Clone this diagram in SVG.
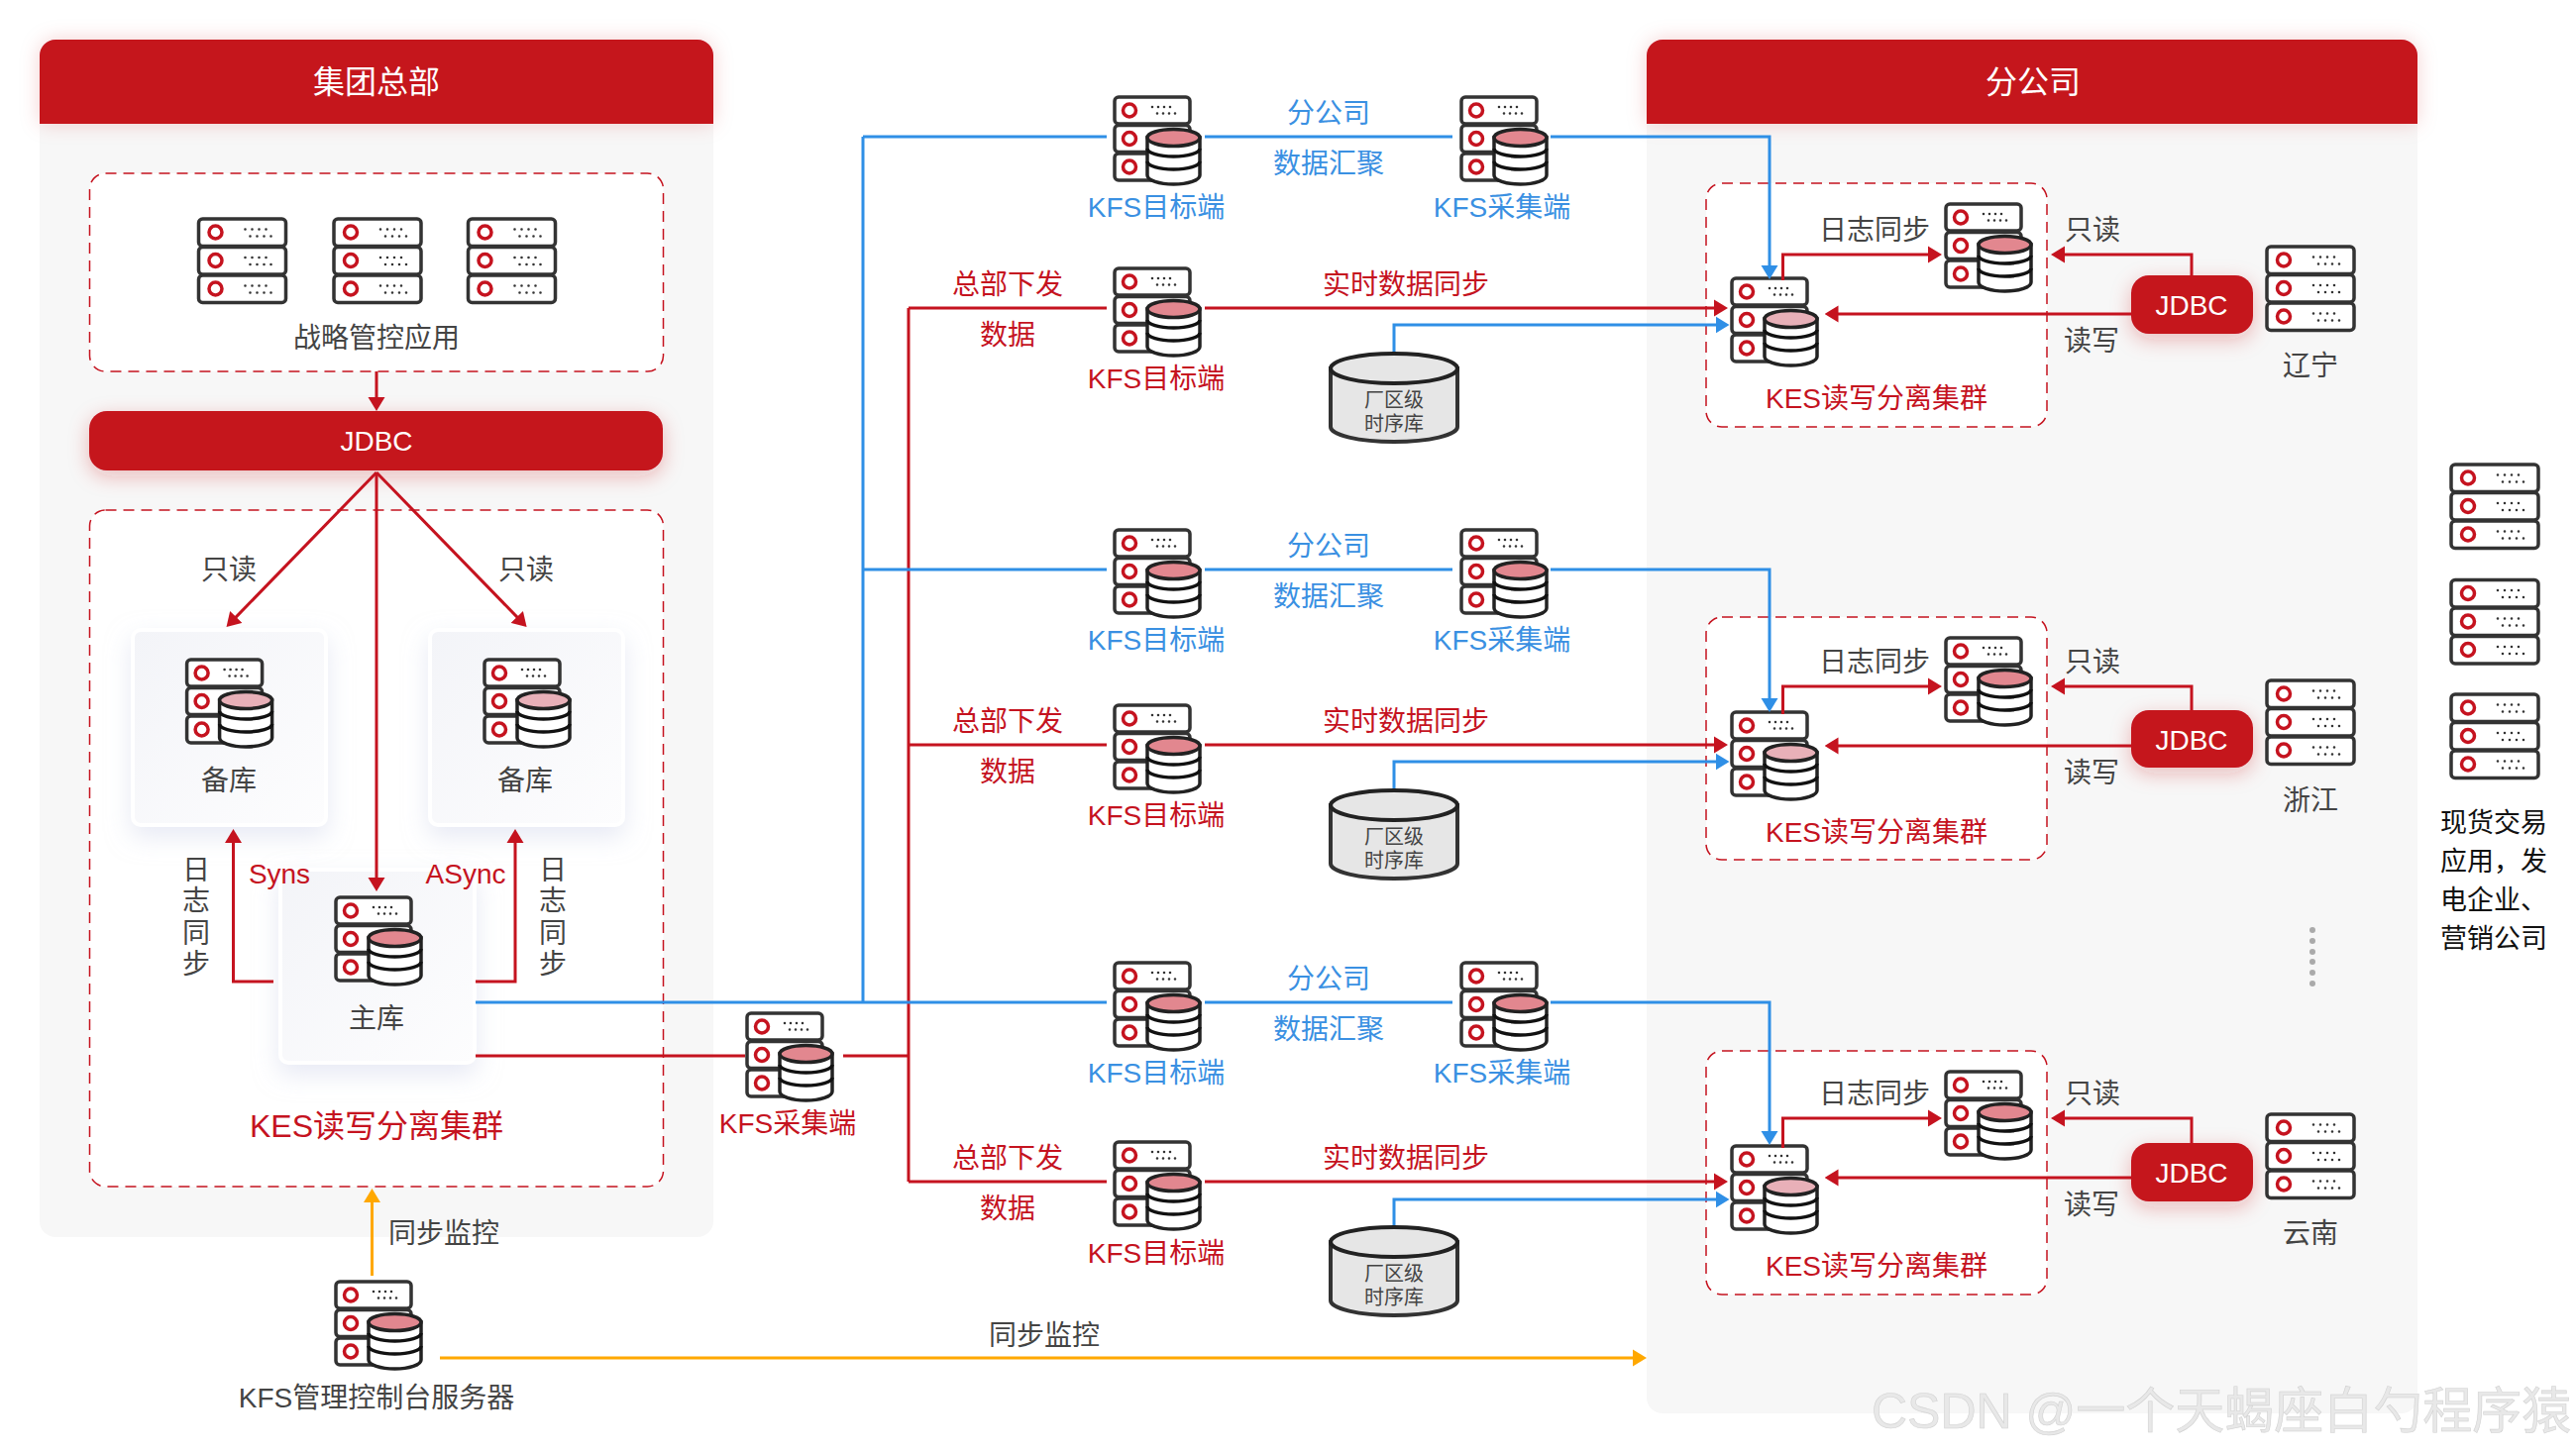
<svg xmlns="http://www.w3.org/2000/svg" xmlns:xlink="http://www.w3.org/1999/xlink" width="2600" height="1467" viewBox="0 0 2600 1467">
<style>
text{font-family:"Liberation Sans","Noto Sans CJK SC",sans-serif;font-size:28px;text-anchor:middle;fill:#444}
.red{fill:#c5131f}.blue{fill:#3a90e2}.white{fill:#fff}.big{font-size:32px}.k{fill:#111;text-anchor:start;font-size:27px}.small{font-size:20px}.kes{font-size:32px}
.wm{font-size:50px;fill:#e8e8e8;stroke:#d2d2d2;stroke-width:.6;text-anchor:start}
.panel{fill:#f7f7f7}.hdr{fill:#c5131f;filter:url(#glow)}.dash{fill:#fff;stroke:#c5131f;stroke-width:1.5;stroke-dasharray:11 7}
.jdbc{fill:#c5131f;filter:url(#glow2)}.card{fill:url(#cardg);stroke:#fff;stroke-width:4;filter:url(#soft)}
.ln{fill:none;stroke-width:3}.r{stroke:#c5131f}.b{stroke:#2f8fe6}.o{stroke:#ffa800}
.ar{marker-end:url(#ar)}.ab{marker-end:url(#ab)}.ao{marker-end:url(#ao)}
.box{fill:#fff;stroke:#333;stroke-width:3.5}.ring{fill:none;stroke:#c5131f;stroke-width:3.5}.dot{fill:none;stroke:#333;stroke-width:2.6;stroke-linecap:round;stroke-dasharray:0 7}
.stk{fill:#fff;stroke:#222;stroke-width:3.5}.arc{fill:none;stroke:#111;stroke-width:3.5}.pd{fill:#e2878f;stroke:#222;stroke-width:3.5}.pl{fill:#e8b0b8;stroke:#222;stroke-width:3.5}
.cyl{fill:#e6e6e6;stroke:#333;stroke-width:4}.cyt{fill:#e6e6e6;stroke:#222;stroke-width:4}
</style>
<defs>
<linearGradient id="cardg" x1="0" y1="0" x2="1" y2="1"><stop offset="0" stop-color="#f3f4f8"/><stop offset="1" stop-color="#fdfdfe"/></linearGradient>
<filter id="glow" x="-10%" y="-40%" width="120%" height="180%"><feDropShadow dx="0" dy="0" stdDeviation="10" flood-color="#c5131f" flood-opacity=".18"/></filter>
<filter id="glow2" x="-40%" y="-60%" width="180%" height="220%"><feDropShadow dx="0" dy="6" stdDeviation="10" flood-color="#c5131f" flood-opacity=".28"/></filter>
<filter id="soft" x="-30%" y="-20%" width="160%" height="150%"><feDropShadow dx="0" dy="10" stdDeviation="12" flood-color="#cfd4ea" flood-opacity=".5"/></filter>
<marker id="ar" markerUnits="userSpaceOnUse" markerWidth="14" markerHeight="18" viewBox="0 0 14 18" refX="10" refY="9" orient="auto"><path d="M0,0.5L14,9L0,17.5z" fill="#c5131f"/></marker>
<marker id="ab" markerUnits="userSpaceOnUse" markerWidth="14" markerHeight="18" viewBox="0 0 14 18" refX="10" refY="9" orient="auto"><path d="M0,0.5L14,9L0,17.5z" fill="#2f8fe6"/></marker>
<marker id="ao" markerUnits="userSpaceOnUse" markerWidth="14" markerHeight="18" viewBox="0 0 14 18" refX="10" refY="9" orient="auto"><path d="M0,0.5L14,9L0,17.5z" fill="#ffa800"/></marker>
<g id="u92"><rect class="box" x="2" y="2" width="88" height="27.5" rx="4"/><circle class="ring" cx="19" cy="15.5" r="6.5"/><line class="dot" x1="49" y1="12.5" x2="77" y2="12.5"/><line class="dot" x1="54" y1="19.5" x2="82" y2="19.5"/></g>
<g id="srv"><use href="#u92"/><use href="#u92" y="28.5"/><use href="#u92" y="57"/></g>
<g id="u80"><rect class="box" x="2" y="2" width="76" height="27" rx="4"/><circle class="ring" cx="17" cy="15.5" r="6.5"/><line class="dot" x1="40" y1="12" x2="64" y2="12" style="stroke-dasharray:0 6"/><line class="dot" x1="45" y1="18.5" x2="69" y2="18.5" style="stroke-dasharray:0 6"/></g>
<g id="base"><use href="#u80"/><use href="#u80" y="28.5"/><use href="#u80" y="57"/>
<path class="stk" d="M35,43V81A26.5,9 0 0 0 88,81V43z"/><path class="arc" d="M35,54A26.5,8 0 0 0 88,54M35,67A26.5,8 0 0 0 88,67"/></g>
<g id="dbd"><use href="#base"/><ellipse class="pd" cx="61.5" cy="43" rx="26.5" ry="8.5"/></g>
<g id="dbl"><use href="#base"/><ellipse class="pl" cx="61.5" cy="43" rx="26.5" ry="8.5"/></g>
<g id="cyl"><path class="cyl" d="M2,17V76A64,15 0 0 0 130,76V17z"/><ellipse class="cyt" cx="66" cy="17" rx="64" ry="15"/></g>
</defs>

<g id="panels">
<rect class="panel" x="40" y="40" width="680" height="1209" rx="16"/>
<rect class="panel" x="1662" y="40" width="778" height="1387" rx="16"/>
<path class="hdr" d="M40,125V56a16,16 0 0 1 16,-16H704a16,16 0 0 1 16,16V125z"/>
<path class="hdr" d="M1662,125V56a16,16 0 0 1 16,-16H2424a16,16 0 0 1 16,16V125z"/>
<rect class="dash" x="90.500" y="175" width="579" height="200" rx="16"/>
<rect class="dash" x="90.500" y="515" width="579" height="683" rx="16"/>
<rect class="dash" x="1722" y="185" width="344" height="246" rx="16"/>
<rect class="dash" x="1722" y="623" width="344" height="245" rx="16"/>
<rect class="dash" x="1722" y="1061" width="344" height="246" rx="16"/>
</g>

<g id="jdbc-hq"><rect class="jdbc" x="90" y="415" width="579" height="60" rx="18"/><text class="white" x="380" y="455">JDBC</text></g>
<g id="card-standby-1"><rect class="card" x="134" y="636" width="195" height="197" rx="8"/></g>
<g id="card-standby-2"><rect class="card" x="434" y="636" width="195" height="197" rx="8"/></g>
<g id="card-primary"><rect class="card" x="283" y="878" width="196" height="195" rx="8"/></g>

<g id="apps"><use href="#srv" x="198.500" y="219"/><use href="#srv" x="335" y="219"/><use href="#srv" x="470.500" y="219"/></g>
<g id="standby-1"><use href="#dbl" x="186.600" y="664"/></g>
<g id="standby-2"><use href="#dbl" x="487" y="664"/></g>
<g id="primary"><use href="#dbd" x="337" y="904"/></g>
<g id="kfs-collector-hq"><use href="#dbd" x="752" y="1021"/></g>
<g id="kfs-console"><use href="#dbd" x="337" y="1292"/></g>

<g id="kfs-a1"><use href="#dbd" x="1123" y="96"/></g>
<g id="kfs-a2"><use href="#dbd" x="1473" y="96"/></g>
<g id="kfs-a3"><use href="#dbd" x="1123" y="269"/></g>
<g id="tsdb-a"><use href="#cyl" x="1341" y="355"/></g>
<g id="kfs-b1"><use href="#dbd" x="1123" y="533"/></g>
<g id="kfs-b2"><use href="#dbd" x="1473" y="533"/></g>
<g id="kfs-b3"><use href="#dbd" x="1123" y="710"/></g>
<g id="tsdb-b"><use href="#cyl" x="1341" y="796"/></g>
<g id="kfs-c1"><use href="#dbd" x="1123" y="970"/></g>
<g id="kfs-c2"><use href="#dbd" x="1473" y="970"/></g>
<g id="kfs-c3"><use href="#dbd" x="1123" y="1151"/></g>
<g id="tsdb-c"><use href="#cyl" x="1341" y="1237"/></g>

<g id="kes-a-main"><use href="#dbl" x="1746" y="279"/></g>
<g id="kes-a-ro"><use href="#dbd" x="1962" y="204"/></g>
<g id="kes-b-main"><use href="#dbl" x="1746" y="717"/></g>
<g id="kes-b-ro"><use href="#dbd" x="1962" y="642"/></g>
<g id="kes-c-main"><use href="#dbl" x="1746" y="1155"/></g>
<g id="kes-c-ro"><use href="#dbd" x="1962" y="1080"/></g>
<g id="jdbc-a"><rect class="jdbc" x="2151" y="278" width="123" height="59" rx="18"/><text class="white" x="2212" y="318">JDBC</text></g>
<g id="jdbc-b"><rect class="jdbc" x="2151" y="717" width="123" height="58" rx="18"/><text class="white" x="2212" y="757">JDBC</text></g>
<g id="jdbc-c"><rect class="jdbc" x="2151" y="1154" width="123" height="59" rx="18"/><text class="white" x="2212" y="1194">JDBC</text></g>
<g id="apps-a"><use href="#srv" x="2286" y="247"/></g>
<g id="apps-b"><use href="#srv" x="2286" y="685"/></g>
<g id="apps-c"><use href="#srv" x="2286" y="1123"/></g>
<g id="spot-1"><use href="#srv" x="2472" y="467"/></g>
<g id="spot-2"><use href="#srv" x="2472" y="583.500"/></g>
<g id="spot-3"><use href="#srv" x="2472" y="699"/></g>
<g id="more" fill="#aaa"><circle cx="2334" cy="939" r="3"/><circle cx="2334" cy="950" r="3"/><circle cx="2334" cy="961" r="3"/><circle cx="2334" cy="971" r="3"/><circle cx="2334" cy="982" r="3"/><circle cx="2334" cy="993" r="3"/></g>

<g id="connectors">
<path class="ln r ar" d="M380,375V411"/>
<path class="ln r ar" d="M380,477L231.300,630.100"/>
<path class="ln r ar" d="M380,477L528.800,630.100"/>
<path class="ln r ar" d="M380,477V896"/>
<path class="ln r ar" d="M276,991H235.500V841"/>
<path class="ln r ar" d="M480,991H520V841"/>
<path class="ln r" d="M480,1066H752M851,1066H917"/>
<path class="ln r" d="M917,311V1193"/>
<path class="ln r" d="M917,311H1117M917,752H1117M917,1193H1117"/>
<path class="ln r ar" d="M1216,311H1740"/>
<path class="ln r ar" d="M1216,752H1740"/>
<path class="ln r ar" d="M1216,1193H1740"/>
<path class="ln b" d="M480,1012H1117M871,138V1012M871,138H1117M871,575H1117M1216,138H1466M1216,575H1466M1216,1012H1466"/>
<path class="ln b ab" d="M1565,138H1786V278"/>
<path class="ln b ab" d="M1565,575H1786V715"/>
<path class="ln b ab" d="M1565,1012H1786V1152"/>
<path class="ln b ab" d="M1407,355V328H1741.500"/>
<path class="ln b ab" d="M1407,796V769H1741.500"/>
<path class="ln b ab" d="M1407,1237V1211H1741.500"/>
<path class="ln r ar" d="M1799.500,283V257H1956"/>
<path class="ln r ar" d="M1799.500,721V693H1956"/>
<path class="ln r ar" d="M1799.500,1159V1129H1956"/>
<path class="ln r ar" d="M2212,278V257H2074"/>
<path class="ln r ar" d="M2212,717V693H2074"/>
<path class="ln r ar" d="M2212,1154V1129H2074"/>
<path class="ln r ar" d="M2151,317H1845.500"/>
<path class="ln r ar" d="M2151,753H1845.500"/>
<path class="ln r ar" d="M2151,1189H1845.500"/>
<path class="ln o ao" d="M375.500,1288V1204"/>
<path class="ln o ao" d="M444,1371H1658"/>
</g>

<g id="labels">
<text class="white big" x="380" y="94">集团总部</text>
<text class="white big" x="2052" y="94">分公司</text>
<text x="380" y="351">战略管控应用</text>
<text x="231" y="585">只读</text><text x="531" y="585">只读</text>
<text x="231" y="798">备库</text><text x="530" y="798">备库</text>
<text x="380" y="1038">主库</text>
<text class="red" x="282" y="892">Syns</text><text class="red" x="470" y="892">ASync</text>
<text x="198 198 198 198" y="888 919 952 983">日志同步</text>
<text x="558 558 558 558" y="888 919 952 983">日志同步</text>
<text class="red kes" x="380" y="1148">KES读写分离集群</text>
<text class="red" x="795" y="1144">KFS采集端</text>
<text x="448" y="1255">同步监控</text>
<text x="380" y="1421">KFS管理控制台服务器</text>
<text x="1054" y="1358">同步监控</text>

<text class="blue" x="1341" y="124">分公司</text><text class="blue" x="1341" y="175">数据汇聚</text>
<text class="blue" x="1167" y="219">KFS目标端</text><text class="blue" x="1516" y="219">KFS采集端</text>
<text class="red" x="1017" y="297">总部下发</text><text class="red" x="1017" y="348">数据</text>
<text class="red" x="1167" y="392">KFS目标端</text><text class="red" x="1419" y="297">实时数据同步</text>
<text class="small" x="1407" y="411">厂区级</text><text class="small" x="1407" y="435">时序库</text>

<text class="blue" x="1341" y="561">分公司</text><text class="blue" x="1341" y="612">数据汇聚</text>
<text class="blue" x="1167" y="656">KFS目标端</text><text class="blue" x="1516" y="656">KFS采集端</text>
<text class="red" x="1017" y="738">总部下发</text><text class="red" x="1017" y="789">数据</text>
<text class="red" x="1167" y="833">KFS目标端</text><text class="red" x="1419" y="738">实时数据同步</text>
<text class="small" x="1407" y="852">厂区级</text><text class="small" x="1407" y="876">时序库</text>

<text class="blue" x="1341" y="998">分公司</text><text class="blue" x="1341" y="1049">数据汇聚</text>
<text class="blue" x="1167" y="1093">KFS目标端</text><text class="blue" x="1516" y="1093">KFS采集端</text>
<text class="red" x="1017" y="1179">总部下发</text><text class="red" x="1017" y="1230">数据</text>
<text class="red" x="1167" y="1275">KFS目标端</text><text class="red" x="1419" y="1179">实时数据同步</text>
<text class="small" x="1407" y="1293">厂区级</text><text class="small" x="1407" y="1317">时序库</text>

<text x="1892" y="242">日志同步</text><text x="2112" y="242">只读</text><text x="2111" y="354">读写</text>
<text class="red" x="1894" y="412">KES读写分离集群</text><text x="2332" y="379">辽宁</text>
<text x="1892" y="678">日志同步</text><text x="2112" y="678">只读</text><text x="2111" y="790">读写</text>
<text class="red" x="1894" y="850">KES读写分离集群</text><text x="2332" y="818">浙江</text>
<text x="1892" y="1114">日志同步</text><text x="2112" y="1114">只读</text><text x="2111" y="1226">读写</text>
<text class="red" x="1894" y="1288">KES读写分离集群</text><text x="2332" y="1255">云南</text>

<text class="k" x="2463" y="840">现货交易</text><text class="k" x="2463" y="879">应用，发</text><text class="k" x="2463" y="918">电企业、</text><text class="k" x="2463" y="957">营销公司</text>
<text class="wm" x="1889" y="1442">CSDN @一个天蝎座白勺程序猿</text>
</g>
</svg>
